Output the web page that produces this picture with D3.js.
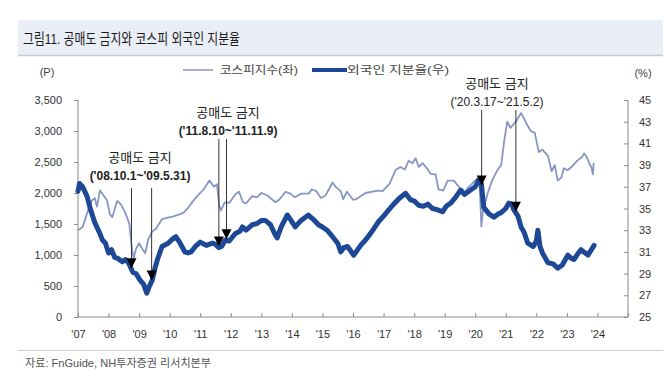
<!DOCTYPE html>
<html><head><meta charset="utf-8">
<script src="https://cdn.jsdelivr.net/npm/d3@7"></script>
<style>
html,body{margin:0;padding:0;background:#fff;}
text{font-family:"Liberation Sans","Noto Sans CJK KR",sans-serif;}
</style></head>
<body><svg id="c" width="670" height="392"></svg>
<script>
// ---- data (decimal years) ----
const kospiDates = [2007.0,2007.15,2007.33,2007.45,2007.55,2007.62,2007.72,2007.85,2007.95,2008.05,2008.12,2008.28,2008.4,2008.55,2008.68,2008.77,2008.82,2008.9,2009.0,2009.1,2009.2,2009.3,2009.43,2009.55,2009.75,2009.9,2010.1,2010.3,2010.45,2010.6,2010.72,2010.9,2011.1,2011.3,2011.45,2011.55,2011.62,2011.68,2011.8,2011.95,2012.15,2012.27,2012.4,2012.5,2012.7,2012.85,2013.0,2013.2,2013.46,2013.6,2013.79,2013.95,2014.1,2014.3,2014.55,2014.65,2014.8,2014.95,2015.1,2015.33,2015.45,2015.6,2015.68,2015.8,2016.0,2016.1,2016.41,2016.6,2016.8,2016.97,2017.2,2017.39,2017.55,2017.7,2017.82,2017.95,2018.05,2018.15,2018.28,2018.45,2018.54,2018.7,2018.8,2018.95,2019.1,2019.3,2019.5,2019.6,2019.75,2019.9,2020.05,2020.15,2020.2,2020.25,2020.41,2020.55,2020.74,2020.85,2020.95,2021.05,2021.15,2021.33,2021.5,2021.6,2021.7,2021.82,2021.95,2022.08,2022.2,2022.38,2022.5,2022.6,2022.7,2022.82,2022.9,2023.03,2023.15,2023.36,2023.5,2023.56,2023.65,2023.75,2023.8,2023.85,2023.88];
const kospiValues = [1400,1450,1720,1880,1920,1780,2040,1950,1880,1650,1610,1870,1820,1680,1500,1080,950,1100,1190,1100,1030,1250,1380,1420,1580,1600,1620,1650,1680,1760,1840,1950,2050,2200,2100,2140,1800,1720,1850,1840,1980,2020,1850,1830,1950,1930,2000,1960,1850,1900,2020,1990,1930,1990,1990,2060,2030,1920,1960,2170,2090,2030,1900,2020,1890,1900,2000,2020,2040,2030,2150,2370,2420,2380,2520,2480,2560,2420,2480,2380,2310,2300,2060,2040,2200,2200,2080,1960,2080,2150,2230,2100,1460,1700,2000,2200,2380,2450,2850,3150,3050,3150,3290,3200,3100,3000,2970,2660,2700,2600,2350,2450,2200,2250,2400,2370,2420,2530,2580,2640,2580,2460,2420,2300,2490];

const foreignDates = [2007.0,2007.05,2007.15,2007.3,2007.4,2007.55,2007.7,2007.8,2007.9,2008.0,2008.1,2008.2,2008.3,2008.45,2008.55,2008.65,2008.8,2008.9,2009.03,2009.15,2009.25,2009.33,2009.43,2009.52,2009.6,2009.75,2009.95,2010.1,2010.2,2010.3,2010.4,2010.5,2010.6,2010.7,2010.84,2011.0,2011.07,2011.2,2011.4,2011.5,2011.6,2011.7,2011.82,2011.95,2012.15,2012.3,2012.38,2012.5,2012.7,2012.85,2013.0,2013.13,2013.3,2013.45,2013.52,2013.65,2013.85,2013.95,2014.11,2014.3,2014.54,2014.7,2014.87,2015.0,2015.15,2015.33,2015.5,2015.6,2015.7,2015.82,2015.9,2016.02,2016.1,2016.25,2016.41,2016.6,2016.84,2017.0,2017.15,2017.3,2017.5,2017.72,2017.88,2018.0,2018.15,2018.3,2018.45,2018.6,2018.75,2018.93,2019.05,2019.2,2019.35,2019.52,2019.65,2019.85,2020.0,2020.11,2020.2,2020.28,2020.45,2020.61,2020.75,2020.84,2021.0,2021.1,2021.2,2021.26,2021.4,2021.5,2021.6,2021.72,2021.9,2022.0,2022.05,2022.12,2022.2,2022.38,2022.55,2022.7,2022.85,2022.95,2023.03,2023.15,2023.23,2023.35,2023.46,2023.6,2023.69,2023.8,2023.89];
const foreignValues = [36.6,37.3,37.0,36.1,35.0,33.7,32.8,32.1,31.8,30.9,31.2,30.5,30.4,30.1,30.3,30.0,29.1,29.0,28.4,28.0,27.2,27.8,28.4,29.5,30.3,31.5,31.8,32.2,32.4,32.0,31.5,31.0,30.9,31.0,31.5,31.9,31.8,31.6,31.8,31.7,31.4,31.5,32.1,32.0,32.7,32.9,33.3,33.0,33.5,33.6,33.9,33.9,33.5,32.6,32.3,33.3,34.4,34.0,33.3,33.9,34.4,34.0,33.5,33.3,33.0,32.4,31.8,31.0,31.4,31.5,31.2,30.7,31.0,31.6,32.1,32.8,33.8,34.3,34.8,35.3,35.9,36.4,35.8,35.7,35.3,35.2,35.4,35.0,34.9,34.7,35.2,35.5,36.0,36.7,36.3,36.7,37.0,37.6,37.3,35.1,34.5,34.2,34.5,34.6,35.0,35.5,35.4,34.9,34.3,33.3,32.8,31.8,31.5,32.0,33.0,31.5,30.9,30.0,29.9,29.5,29.8,30.3,30.7,30.4,30.3,30.8,31.2,30.9,30.7,31.2,31.6];

const yearTicks = [2007,2008,2009,2010,2011,2012,2013,2014,2015,2016,2017,2018,2019,2020,2021,2022,2023,2024];
const leftTicks = [0,500,1000,1500,2000,2500,3000,3500];
const rightTicks = [25,27,29,31,33,35,37,39,41,43,45];

// short-sale ban annotations
const banLabels = ["('08.10.1~'09.5.31)","('11.8.10~'11.11.9)","('20.3.17~'21.5.2)"];
const banStarts = [2008.75,2011.61,2020.21];
const banEnds = [2009.41,2011.86,2021.33];
const banLabelX = [2009.03,2011.91,2020.71];
const banLabelPct = [39.33,43.39,46.15];
const banArrowTopPct = [36.9,41.4,44.08];
const banBold = [true,true,false];

// ---- drawing ----
const svg = d3.select("#c");
const x = d3.scaleLinear().domain([2007,2025]).range([78,628]);
const yL = d3.scaleLinear().domain([0,3500]).range([317,100]);
const yR = d3.scaleLinear().domain([25,45]).range([317,100]);

// title bar
svg.append("rect").attr("x",18).attr("y",20).attr("width",645).attr("height",35).attr("fill","#eaeef7");
svg.append("line").attr("x1",18).attr("x2",663).attr("y1",55.5).attr("y2",55.5).attr("stroke","#c6cad3").attr("stroke-width",1.5);
svg.append("text").attr("x",23).attr("y",44).attr("font-size",15).attr("fill","#1a1a1a")
  .attr("textLength",217).attr("lengthAdjust","spacingAndGlyphs")
  .text("그림11. 공매도 금지와 코스피 외국인 지분율");

// footer
svg.append("line").attr("x1",18).attr("x2",663).attr("y1",350.5).attr("y2",350.5).attr("stroke","#cfcfcf");
svg.append("text").attr("x",25).attr("y",367).attr("font-size",11).attr("fill","#555")
  .attr("textLength",186).attr("lengthAdjust","spacingAndGlyphs")
  .text("자료: FnGuide, NH투자증권 리서치본부");

// units
svg.append("text").attr("x",47).attr("y",76).attr("font-size",11).attr("fill","#444").attr("text-anchor","middle").text("(P)");
svg.append("text").attr("x",643).attr("y",77).attr("font-size",11).attr("fill","#444").attr("text-anchor","middle").text("(%)");

// legend
svg.append("line").attr("x1",183).attr("x2",213).attr("y1",70).attr("y2",70).attr("stroke","#8797c4").attr("stroke-width",1.5);
svg.append("text").attr("x",220).attr("y",74).attr("font-size",11.5).attr("fill","#444")
  .attr("textLength",78).attr("lengthAdjust","spacingAndGlyphs").text("코스피지수(좌)");
svg.append("line").attr("x1",312).attr("x2",347).attr("y1",70).attr("y2",70).attr("stroke","#1c4896").attr("stroke-width",4);
svg.append("text").attr("x",347).attr("y",74).attr("font-size",11.5).attr("fill","#444")
  .attr("textLength",102).attr("lengthAdjust","spacingAndGlyphs").text("외국인 지분율(우)");

// axes
const axCol = "#8c8c8c";
const gL = svg.append("g").attr("transform","translate(78,0)")
  .call(d3.axisLeft(yL).tickValues(leftTicks).tickSize(4).tickPadding(12).tickFormat(d3.format(",")));
const gR = svg.append("g").attr("transform","translate(628,0)")
  .call(d3.axisRight(yR).tickValues(rightTicks).tickSize(-4).tickPadding(11));
const gB = svg.append("g").attr("transform","translate(0,317)")
  .call(d3.axisBottom(x).tickValues(yearTicks.concat([2025])).tickSize(-4).tickPadding(13)
    .tickFormat(d => d===2025 ? "" : "'" + String(d).slice(2)));
[gL,gR,gB].forEach(g=>{
  g.select(".domain").attr("stroke",axCol);
  g.selectAll(".tick line").attr("stroke",axCol);
  g.selectAll(".tick text").attr("fill","#333").attr("font-size",11)
    .attr("font-family","'Liberation Sans',Arial,sans-serif");
});
gL.select(".domain").attr("d","M0,100V317");
gR.select(".domain").attr("d","M0,100V317");
gB.select(".domain").attr("d","M78,0H628");

// lines
const kospi = kospiDates.map((d,i)=>[d,kospiValues[i]]);
const foreign = foreignDates.map((d,i)=>[d,foreignValues[i]]);
svg.append("path").datum(kospi).attr("fill","none").attr("stroke","#8797c4").attr("stroke-width",1.8)
  .attr("stroke-linejoin","round")
  .attr("d",d3.line().x(d=>x(d[0])).y(d=>yL(d[1])));
svg.append("path").datum(foreign).attr("fill","none").attr("stroke","#1c4896").attr("stroke-width",5)
  .attr("stroke-linejoin","round").attr("stroke-linecap","round")
  .attr("d",d3.line().x(d=>x(d[0])).y(d=>yR(d[1])));

// annotations
function foreignAt(t){
  const i = d3.bisectRight(foreignDates,t);
  const a = Math.max(0,i-1), b = Math.min(foreignDates.length-1,i);
  if(a===b) return foreignValues[a];
  const f = (t-foreignDates[a])/(foreignDates[b]-foreignDates[a]);
  return foreignValues[a]+(foreignValues[b]-foreignValues[a])*f;
}
banLabels.forEach((lab,k)=>{
  const cx = x(banLabelX[k]), by = yR(banLabelPct[k]);
  svg.append("text").attr("x",cx).attr("y",by).attr("text-anchor","middle").attr("font-size",13)
    .attr("fill","#222").attr("font-family","'Noto Sans CJK KR',sans-serif").text("공매도 금지");
  svg.append("text").attr("x",cx).attr("y",by+18).attr("text-anchor","middle").attr("font-size",12)
    .attr("fill","#222").attr("font-weight",banBold[k]?"bold":"normal").text(lab);
  [banStarts[k],banEnds[k]].forEach(t=>{
    const ax = x(t), top = yR(banArrowTopPct[k]), tip = yR(foreignAt(t)) - 1;
    svg.append("line").attr("x1",ax).attr("x2",ax).attr("y1",top).attr("y2",tip-9)
      .attr("stroke","#333").attr("stroke-width",1);
    svg.append("path").attr("d",`M${ax-5},${tip-10}L${ax+5},${tip-10}L${ax},${tip}Z`).attr("fill","#000");
  });
});
</script></body></html>
